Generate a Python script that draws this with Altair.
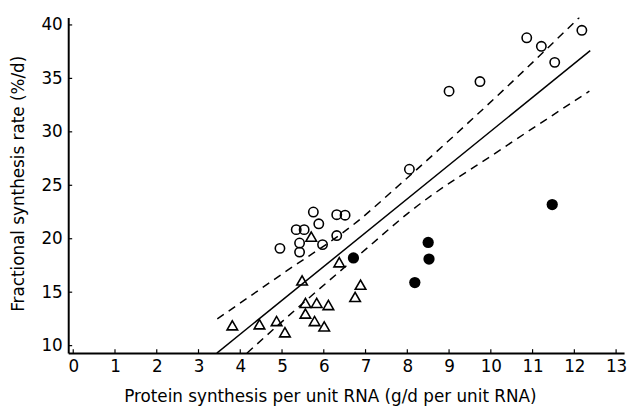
import altair as alt
import pandas as pd

# open circles
oc_x = [4.95, 5.34, 5.53, 5.42, 5.42, 5.75, 5.88, 5.97, 6.31, 6.51, 6.31, 8.05, 9.0, 9.74, 10.86, 11.21, 11.53, 12.18]
oc_y = [19.1, 20.85, 20.85, 19.6, 18.75, 22.5, 21.4, 19.45, 22.25, 22.2, 20.3, 26.5, 33.8, 34.7, 38.8, 38.0, 36.5, 39.5]
# triangles
tr_x = [3.81, 4.46, 4.87, 5.07, 5.48, 5.70, 6.37, 5.56, 5.83, 6.11, 5.56, 5.78, 6.01, 6.88, 6.75]
tr_y = [11.9, 12.0, 12.3, 11.25, 16.1, 20.2, 17.8, 14.0, 14.0, 13.8, 13.0, 12.3, 11.8, 15.7, 14.55]
# filled circles
fc_x = [6.71, 8.50, 8.52, 8.18, 11.47]
fc_y = [18.2, 19.65, 18.1, 15.9, 23.2]
# regression line and band
fit_x = [3.44, 12.38]
fit_y = [9.3, 37.6]
up_x = [3.45, 5.0, 6.8, 7.8, 10.3, 12.12]
up_y = [12.5, 16.7, 21.6, 25.0, 33.9, 40.7]
lo_x = [4.16, 5.5, 7.0, 8.02, 10.3, 12.36]
lo_y = [9.3, 13.97, 19.0, 22.4, 28.5, 33.8]
# ticks
x_ticks = list(range(0, 14))
y_ticks = [10, 15, 20, 25, 30, 35, 40]

W, H = 563, 340
FONT = "DejaVu Sans"

xscale = alt.Scale(domain=[-0.12, 13.19], nice=False, zero=False)
yscale = alt.Scale(domain=[9.3, 40.7], nice=False, zero=False)
xaxis = alt.Axis(values=x_ticks, title="Protein synthesis per unit RNA (g/d per unit RNA)",
                 grid=False, ticks=False, tickSize=0, labelPadding=6,
                 titleX=265, titleY=49, titleBaseline="alphabetic", titleAlign="center")
yaxis = alt.Axis(values=y_ticks, title="Fractional synthesis rate (%/d)",
                 grid=False, ticks=False, tickSize=0, labelPadding=6,
                 titleAngle=270, titleX=-45, titleY=H / 2 - 2, titleBaseline="alphabetic",
                 titleAlign="center")

def X(f):
    return alt.X(f, type="quantitative", scale=xscale, axis=xaxis)

def Y(f):
    return alt.Y(f, type="quantitative", scale=yscale, axis=yaxis)

oc = pd.DataFrame({"x": oc_x, "y": oc_y})
tr = pd.DataFrame({"x": tr_x, "y": tr_y})
fc = pd.DataFrame({"x": fc_x, "y": fc_y})
fit = pd.DataFrame({"x": fit_x, "y": fit_y})
up = pd.DataFrame({"x": up_x, "y": up_y})
lo = pd.DataFrame({"x": lo_x, "y": lo_y})
xt = pd.DataFrame({"t": x_ticks})
yt = pd.DataFrame({"t": y_ticks})

fit_line = alt.Chart(fit).mark_line(color="black", strokeWidth=1.5, clip=True).encode(x=X("x"), y=Y("y"))
up_line = alt.Chart(up).mark_line(color="black", strokeWidth=1.5, strokeDash=[8, 6], interpolate="monotone", clip=True).encode(x=X("x"), y=Y("y"))
lo_line = alt.Chart(lo).mark_line(color="black", strokeWidth=1.5, strokeDash=[8, 6], interpolate="monotone", clip=True).encode(x=X("x"), y=Y("y"))

oc_pts = alt.Chart(oc).mark_point(shape="circle", filled=False, color="black", strokeWidth=1.6, size=90, opacity=1).encode(x=X("x"), y=Y("y"))
tr_pts = alt.Chart(tr).mark_point(shape="triangle-up", filled=False, color="black", strokeWidth=1.6, size=115, opacity=1).encode(x=X("x"), y=Y("y"))
fc_pts = alt.Chart(fc).mark_circle(color="black", size=130, opacity=1).encode(x=X("x"), y=Y("y"))

xtick = alt.Chart(xt).mark_rule(color="black", strokeWidth=1.2).encode(x=X("t"), y=alt.value(H), y2=alt.value(H - 4))
ytick = alt.Chart(yt).mark_rule(color="black", strokeWidth=1.2).encode(y=Y("t"), x=alt.value(0), x2=alt.value(4))

chart = alt.layer(xtick, ytick, fit_line, up_line, lo_line, oc_pts, tr_pts, fc_pts).properties(
    width=W, height=H, autosize="none", background="white",
    padding={"left": 61, "top": 7, "right": 3, "bottom": 52},
).configure_view(stroke=None).configure_axis(
    domainColor="black", domainWidth=2, labelColor="black", titleColor="black",
    labelFont=FONT, titleFont=FONT, labelFontSize=17, titleFontSize=17,
    labelFontWeight="normal", titleFontWeight="normal",
)

chart.save("out.html", embed_options={"renderer": "svg", "actions": False})
